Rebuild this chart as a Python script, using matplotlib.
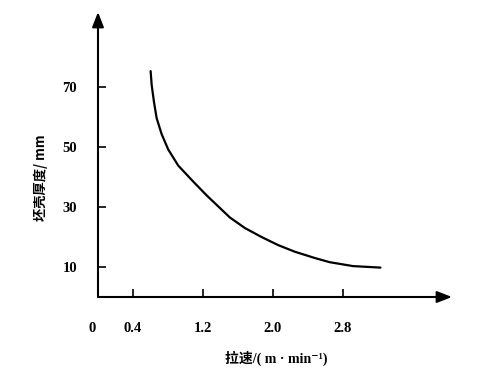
import matplotlib.pyplot as plt
import matplotlib.transforms as mtransforms

# casting speed (m/min) vs shell thickness (mm)
speed = [0.602, 0.614, 0.640, 0.671, 0.728, 0.803, 0.918, 1.089, 1.242,
         1.509, 1.680, 1.871, 2.061, 2.251, 2.480, 2.651, 2.918, 3.231]
thickness = [75.3, 70.7, 65.1, 59.6, 54.3, 49.2, 43.8, 38.5, 33.9,
             26.5, 23.0, 20.0, 17.3, 15.1, 13.0, 11.6, 10.3, 9.8]

xticks = [0, 0.4, 1.2, 2.0, 2.8]
xticklabels = ["0", "0.4", "1.2", "2.0", "2.8"]
yticks = [10, 30, 50, 70]

serif = {"family": "Liberation Serif", "weight": "bold", "size": 10.5}
mixed = ["Liberation Serif", "Noto Sans CJK SC", "DejaVu Sans"]
cjk = ["Noto Sans CJK SC", "DejaVu Sans"]

fig = plt.figure(figsize=(4.81, 3.77), dpi=100)
ax = fig.add_axes([98 / 481, 80 / 377, (452 - 98) / 481, (297 - 12) / 377])
ax.set_xlim(0, 4.05)
ax.set_ylim(0, 95)

ax.plot(speed, thickness, color="black", lw=1.6, solid_capstyle="round",
        solid_joinstyle="round")

for s in ax.spines.values():
    s.set_visible(False)

# axes with arrow heads
arrow = dict(arrowstyle="-|>,head_length=0.9,head_width=0.35", color="black",
             lw=1.5, shrinkA=0, shrinkB=0)
ax.annotate("", xy=(0, 1), xytext=(0, 0), xycoords="axes fraction",
            arrowprops=arrow, annotation_clip=False)
ax.annotate("", xy=(1, 0), xytext=(0, 0), xycoords="axes fraction",
            arrowprops=arrow, annotation_clip=False)

ax.set_xticks(xticks)
ax.set_xticklabels(xticklabels, fontdict=serif)
ax.set_yticks(yticks)
ax.set_yticklabels([str(v) for v in yticks], fontdict=serif)
ax.tick_params(axis="x", direction="in", length=6, width=1.2, pad=18)
ax.tick_params(axis="y", direction="in", length=6, width=1.2, pad=15)

# the "0" label sits a little left of the origin in the original
zero = ax.get_xticklabels()[0]
zero.set_transform(zero.get_transform() +
                   mtransforms.ScaledTranslation(-0.06, 0, fig.dpi_scale_trans))

fig.text(41 / 481, 1 - 178 / 377, "坯壳厚度/ mm", rotation=90, ha="center",
         va="center", family=cjk, weight="bold", fontsize=9.5)
fig.text(276 / 481, 1 - 358 / 377, "拉速/( m · min⁻¹)", ha="center",
         va="center", family=mixed, weight="bold", fontsize=10)

fig.savefig("out.png", dpi=100)
